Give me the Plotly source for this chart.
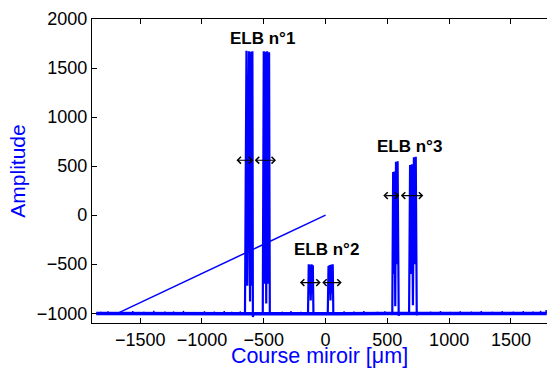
import plotly.graph_objects as go

BLUE = "#0000FF"
FONT = "Liberation Sans, Arial, Helvetica, sans-serif"

# Baseline (noise floor around -1000)
baseline_x = [-1856, -1500, -1100, -700, -300, 100, 500, 900, 1300, 1790]
baseline_y = [-1004, -1006, -1003, -1005, -1004, -1006, -1003, -1005, -1004, -1003]

# Small noise spikes on the baseline
spike_x = [-1820, -1760, -1650, -1560, -1470, -1390, -1300, -1230, -1150, -1060, -980, -900,
           -820, -760, -690, -350, -280, -200, 150, 230, 310, 420, 480, 850, 930, 1010,
           1090, 1180, 1260, 1350, 1430, 1520, 1600, 1680, 1740, 1785]
spike_y = [-985, -980, -988, -978, -986, -975, -984, -982, -976, -987, -980, -983,
           -977, -985, -981, -984, -978, -986, -980, -983, -977, -985, -979, -984, -978, -986,
           -980, -983, -977, -985, -979, -984, -978, -982, -976, -968]

# Straight line from (-1680,-1000) to (0,0)
diag_x = [-1680, 0]
diag_y = [-1000, 0]

# Interferogram bursts (ELB n°1, n°2, n°3)
burst1a_x = [-652, -640, -633, -620, -611, -604, -598, -592, -588, -582]
burst1a_y = [-1000, 1675, -720, 1670, -880, 1665, -720, 1670, -1040, -1000]
burst1b_x = [-508, -500, -494, -487, -480, -473, -466, -457, -451, -445]
burst1b_y = [-1000, 1670, -700, 1665, -900, 1670, -700, 1660, -1010, -1000]
burst2a_x = [-142, -136, -131, -127, -120, -113, -108, -103, -98, -92]
burst2a_y = [-1000, -500, -800, -505, -870, -500, -800, -510, -1010, -1000]
burst2b_x = [18, 24, 29, 33, 40, 47, 52, 58, 63, 69]
burst2b_y = [-1000, -520, -800, -510, -870, -505, -800, -500, -1010, -1000]
burst3a_x = [540, 547, 552, 558, 564, 570, 576, 583, 592, 598]
burst3a_y = [-1000, 440, -600, 445, -930, 545, -500, 550, -1025, -1000]
burst3b_x = [676, 684, 691, 699, 707, 715, 722, 730, 738, 744]
burst3b_y = [-1000, 510, -600, 520, -920, 590, -500, 595, -1020, -1000]

# Labels
label_text = ["ELB n°1", "ELB n°2", "ELB n°3"]
label_x = [-514, 10, 677]
label_y = [1798, -355, 695]

# Double arrows (width markers)
arrow_x0 = [-733, -585, -220, -39, 455, 597]
arrow_x1 = [-585, -401, -39, 131, 597, 791]
arrow_y = [560, 560, -688, -688, 199, 199]

x_ticks = [-1500, -1000, -500, 0, 500, 1000, 1500]
y_ticks = [-1000, -500, 0, 500, 1000, 1500, 2000]

fig = go.Figure()

fig.add_trace(go.Scatter(x=baseline_x, y=baseline_y, mode="lines",
                         line=dict(color=BLUE, width=3.5), hoverinfo="skip", showlegend=False))

sx, sy = [], []
for xv, yv in zip(spike_x, spike_y):
    sx += [xv, xv, None]
    sy += [-1004, yv, None]
fig.add_trace(go.Scatter(x=sx, y=sy, mode="lines",
                         line=dict(color=BLUE, width=1.5), hoverinfo="skip", showlegend=False))

fig.add_trace(go.Scatter(x=diag_x, y=diag_y, mode="lines",
                         line=dict(color=BLUE, width=1.5), showlegend=False))

for bx, by in [(burst1a_x, burst1a_y), (burst1b_x, burst1b_y),
               (burst2a_x, burst2a_y), (burst2b_x, burst2b_y),
               (burst3a_x, burst3a_y), (burst3b_x, burst3b_y)]:
    fig.add_trace(go.Scatter(x=bx, y=by, mode="lines",
                             line=dict(color=BLUE, width=2.2), showlegend=False))

for t, xv, yv in zip(label_text, label_x, label_y):
    fig.add_annotation(x=xv, y=yv, xref="x", yref="y", text="<b>" + t + "</b>",
                       showarrow=False, font=dict(family=FONT, size=17, color="black"),
                       xanchor="center", yanchor="middle")

for x0, x1, yv in zip(arrow_x0, arrow_x1, arrow_y):
    fig.add_annotation(x=x1, y=yv, ax=x0, ay=yv, xref="x", yref="y", axref="x", ayref="y",
                       text="", showarrow=True, arrowhead=4, startarrowhead=4,
                       arrowside="end+start", arrowsize=1.2, startarrowsize=1.2, arrowwidth=1.1,
                       arrowcolor="black", startstandoff=0, standoff=0)

fig.update_layout(
    width=547, height=368,
    margin=dict(l=92, r=0, t=19, b=45),
    paper_bgcolor="white", plot_bgcolor="white",
    font=dict(family=FONT, size=18, color="black"),
    showlegend=False,
    xaxis=dict(range=[-1890, 1792], tickvals=x_ticks, ticks="inside", ticklen=5,
               tickcolor="black", showline=True, linecolor="black", linewidth=1.3,
               mirror="ticks", showgrid=False, zeroline=False, automargin=False,
               tickfont=dict(family=FONT, size=18, color="black"),
               title=dict(text="Course miroir [μm]", font=dict(family=FONT, size=21.5, color=BLUE),
                          standoff=3)),
    yaxis=dict(range=[-1100, 2000], tickvals=y_ticks, ticks="inside", ticklen=5,
               tickcolor="black", showline=True, linecolor="black", linewidth=1.3,
               mirror=False, showgrid=False, zeroline=False, automargin=False,
               tickfont=dict(family=FONT, size=18, color="black"),
               title=dict(text="Amplitude", font=dict(family=FONT, size=21, color=BLUE),
                          standoff=5)),
)

fig.write_html("out.html", config={"displayModeBar": False},
               post_script="document.body.style.margin='0';document.body.style.overflow='hidden';")
